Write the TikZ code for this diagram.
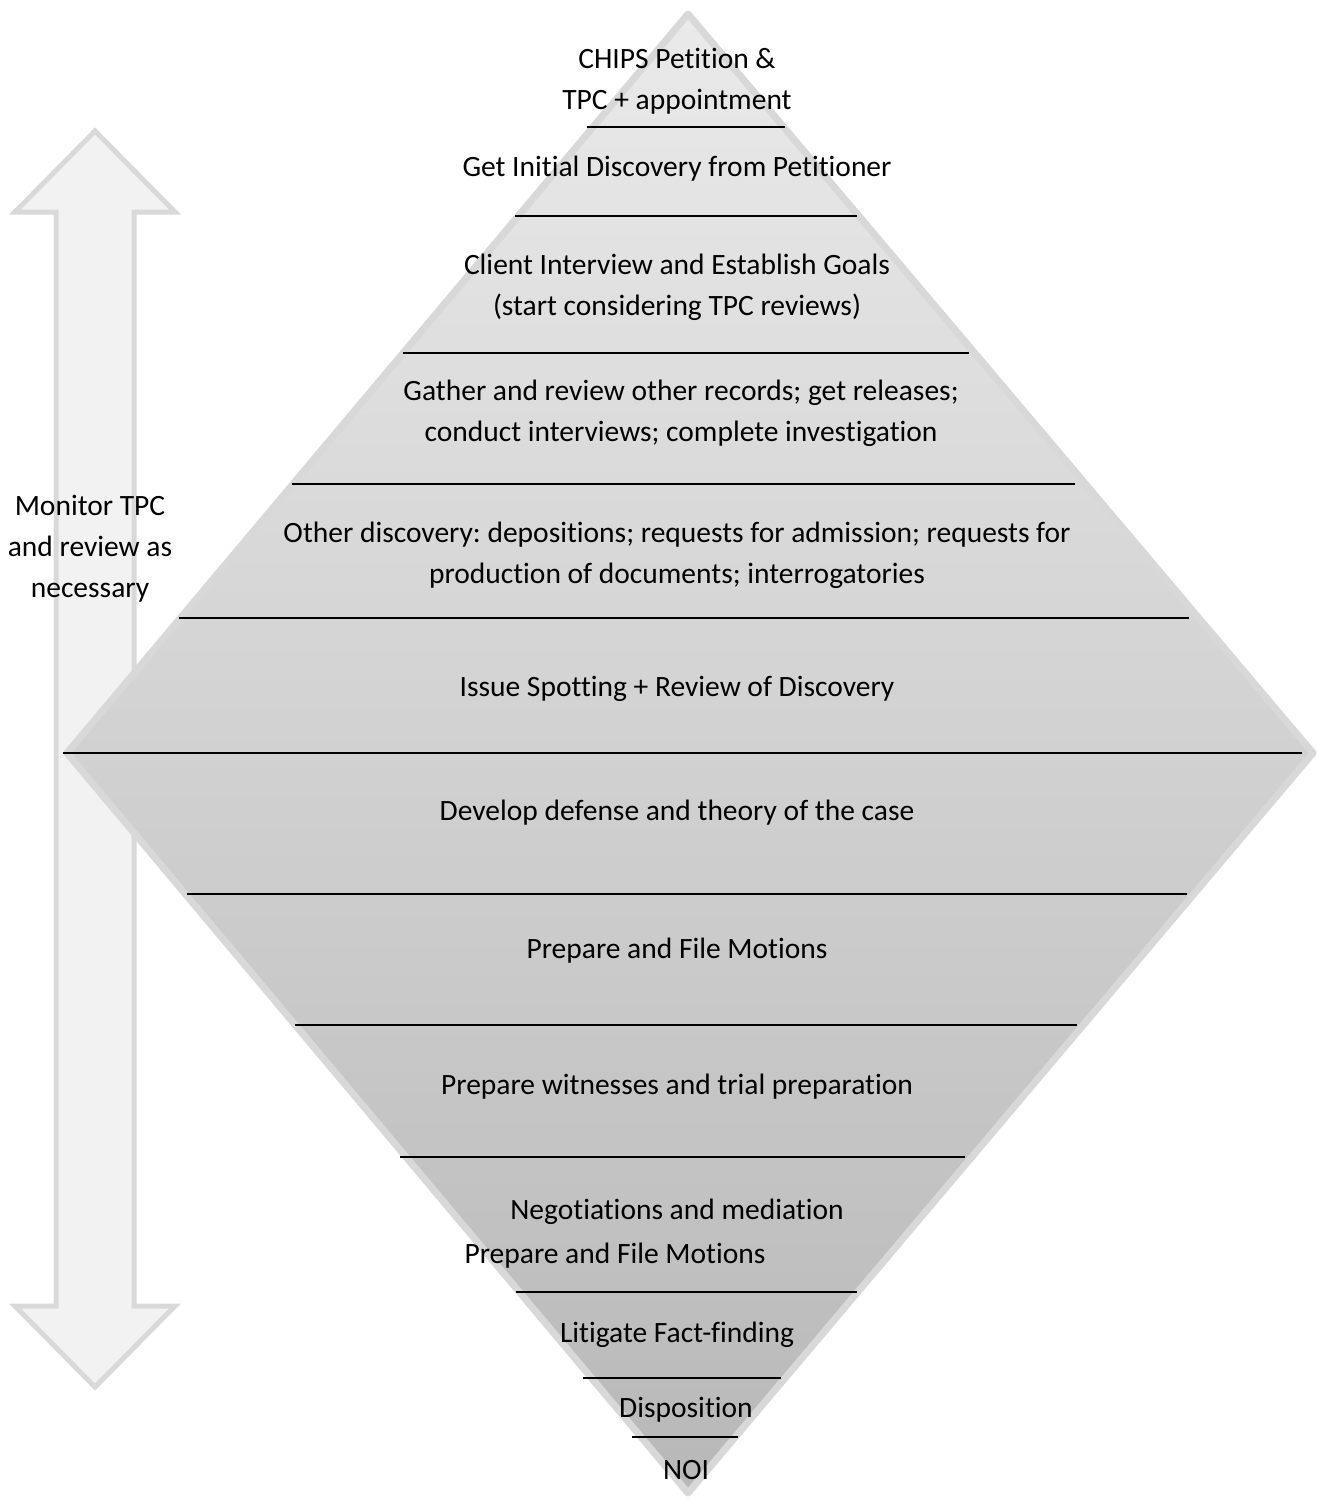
\documentclass[tikz,border=0pt]{standalone}
\usepackage{fontspec}
\setmainfont{Carlito}[Ligatures=NoCommon]
\frenchspacing
\begin{document}
\begin{tikzpicture}[x=1pt,y=-1pt,
  lbl/.style={font=\fontsize{29.5}{41}\selectfont, align=center, inner sep=0pt, anchor=base},
  sep/.style={draw=black, line width=2.4pt},
  arrowshape/.style={fill=arrowfill, draw=arrowline, line width=5pt, line join=miter},
  diamondshape/.style={draw=diamondline, line width=7pt, line join=round}]
\definecolor{arrowfill}{HTML}{F2F2F2}
\definecolor{arrowline}{HTML}{D9D9D9}
\definecolor{diamondline}{HTML}{D8D8D8}
\definecolor{difftop}{HTML}{EAEAEA}
\definecolor{diffbot}{HTML}{B8B8B8}
\useasboundingbox (0,0) rectangle (1317,1499);
% double arrow
\path[arrowshape] (95,131) -- (175,212) -- (134,212) -- (134,1306) -- (175,1306)
  -- (95,1387) -- (15,1306) -- (56,1306) -- (56,212) -- (15,212) -- cycle;
% diamond
\coordinate (T) at (688,14);
\coordinate (L) at (67,753);
\coordinate (R) at (1313,753);
\coordinate (B) at (688,1493);
\shade[top color=difftop, bottom color=diffbot] (T) -- (R) -- (B) -- (L) -- cycle;
\draw[diamondshape] (T) -- (R) -- (B) -- (L) -- cycle;
% separators
\foreach \n/\y/\a/\b in {1/127/587/785, 2/216/515/857, 3/353/403/969, 4/484/292/1075,
  5/618/179/1189, 6/753/63/1302, 7/894/187/1187, 8/1025/295/1077, 9/1157/400/965,
  10/1292/516/857, 11/1378/583/781, 12/1437/632/738}{
  \coordinate (s\n a) at (\a,\y);
  \coordinate (s\n b) at (\b,\y);
  \draw[sep] (s\n a) -- (s\n b);
}
% texts (anchor base = baseline of last line)
\node[lbl] (t1) at (677,109) {CHIPS Petition \&\\TPC + appointment};
\node[lbl] (t2) at (677,176) {Get Initial Discovery from Petitioner};
\node[lbl] (t3) at (677,315) {Client Interview and Establish Goals\\(start considering TPC reviews)};
\node[lbl] (t4) at (681,441) {Gather and review other records; get releases;\\conduct interviews; complete investigation};
\node[lbl] (t5) at (677,583) {Other discovery: depositions; requests for admission; requests for\\production of documents; interrogatories};
\node[lbl] (t6) at (677,696) {Issue Spotting + Review of Discovery};
\node[lbl] (t7) at (677,820) {Develop defense and theory of the case};
\node[lbl] (t8) at (677,958) {Prepare and File Motions};
\node[lbl] (t9) at (677,1094) {Prepare witnesses and trial preparation};
\node[lbl] (t10) at (677,1219) {Negotiations and mediation};
\node[lbl] (t11) at (615,1263) {Prepare and File Motions};
\node[lbl] (t12) at (677,1342) {Litigate Fact-finding};
\node[lbl] (t13) at (686,1417) {Disposition};
\node[lbl] (t14) at (686,1479) {NOI};
\node[lbl] (side) at (90,597) {Monitor TPC\\and review as\\necessary};
\end{tikzpicture}
\end{document}
